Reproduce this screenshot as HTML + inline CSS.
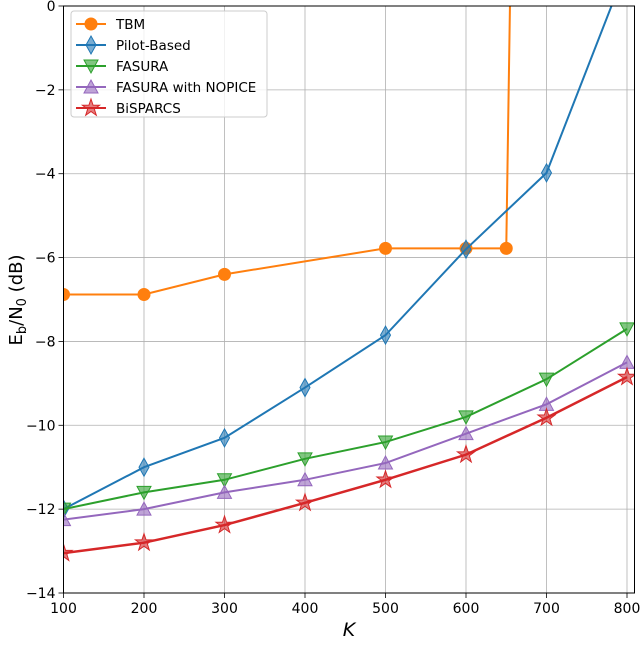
<!DOCTYPE html>
<html><head><meta charset="utf-8"><style>
body{margin:0;background:#fff;width:640px;height:666px;overflow:hidden}
svg text{font-family:"DejaVu Sans","Liberation Sans",sans-serif}
</style></head><body>
<svg id="chart" width="640" height="666" xmlns="http://www.w3.org/2000/svg"></svg>
<script>
const xTicks=[100,200,300,400,500,600,700,800];
const yTicks=[0,-2,-4,-6,-8,-10,-12,-14];
const tbmK=[100,200,300,500,600,650,655];
const tbmV=[-6.88,-6.88,-6.4,-5.78,-5.78,-5.78,0.5];
const pilotK=[100,200,300,400,500,600,700,800];
const pilotV=[-12,-11,-10.3,-9.1,-7.85,-5.8,-3.98,0.95];
const fasuraK=[100,200,300,400,500,600,700,800];
const fasuraV=[-12,-11.6,-11.3,-10.8,-10.4,-9.8,-8.9,-7.7];
const nopiceK=[100,200,300,400,500,600,700,800];
const nopiceV=[-12.25,-12.0,-11.6,-11.3,-10.9,-10.2,-9.5,-8.5];
const bispK=[100,200,300,400,500,600,700,800];
const bispV=[-13.05,-12.8,-12.38,-11.85,-11.3,-10.7,-9.82,-8.85];

const L=63.5,R=634.5,T=6,B=593;
const xs=k=>L+(k-100)*0.805;
const ys=v=>T+(0-v)*(B-T)/14;
const svg=document.getElementById('chart');
const NS='http://www.w3.org/2000/svg';
function mk(tag,attrs,parent){const e=document.createElementNS(NS,tag);for(const a in attrs)e.setAttribute(a,attrs[a]);(parent||svg).appendChild(e);return e;}
const clip=mk('clipPath',{id:'pc'});mk('rect',{x:L,y:T,width:R-L,height:B-T},clip);
xTicks.forEach(t=>{const x=xs(t);
 const g=mk('line',{x1:x,x2:x,y1:T,y2:B,stroke:'#b0b0b0','stroke-width':0.8});
 
 mk('line',{x1:x,x2:x,y1:B,y2:B+5,stroke:'#000','stroke-width':0.8});
 const tx=mk('text',{x:x,y:B+20,'text-anchor':'middle','font-size':14});tx.textContent=t;
 });
yTicks.forEach(t=>{const y=ys(t);
 const g=mk('line',{x1:L,x2:R,y1:y,y2:y,stroke:'#b0b0b0','stroke-width':0.8});
 
 mk('line',{x1:L-5,x2:L,y1:y,y2:y,stroke:'#000','stroke-width':0.8});
 const tx=mk('text',{x:L-8,y:y+5,'text-anchor':'end','font-size':14});tx.textContent=(t<0?'\u2212'+(-t):t);
 });
function marker(type,x,y,c,g){
 const s=7;let e;
 if(type==='o')e=mk('circle',{cx:x,cy:y,r:6},g);
 else if(type==='d')e=mk('polygon',{points:`${x},${y-9} ${x+5},${y} ${x},${y+9} ${x-5},${y}`},g);
 else if(type==='v')e=mk('polygon',{points:`${x-s},${y-6} ${x+s},${y-6} ${x},${y+7}`},g);
 else if(type==='^')e=mk('polygon',{points:`${x-s},${y+6} ${x+s},${y+6} ${x},${y-7}`},g);
 else{let p=[];for(let i=0;i<10;i++){const r=i%2?3.5:9,a=-Math.PI/2+i*Math.PI/5;p.push((x+r*Math.cos(a))+','+(y+r*Math.sin(a)));}e=mk('polygon',{points:p.join(' ')},g);}
 e.setAttribute('fill',c);e.setAttribute('fill-opacity',type==='o'?1:0.6);e.setAttribute('stroke',c);e.setAttribute('stroke-width',1);
 return e;}
const series=[
 ['tbm',tbmK,tbmV,'#ff7f0e','o',[0,1,2,3,4,5]],
 ['pilot',pilotK,pilotV,'#1f77b4','d',null],
 ['fasura',fasuraK,fasuraV,'#2ca02c','v',null],
 ['nopice',nopiceK,nopiceV,'#9467bd','^',null],
 ['bisparcs',bispK,bispV,'#d62728','*',null]];
series.forEach(([n,K,V,c,m,idx])=>{
 const g=mk('g',{'clip-path':'url(#pc)'});
 
 const pl=mk('polyline',{points:K.map((k,i)=>xs(k)+','+ys(V[i])).join(' '),fill:'none',stroke:c,'stroke-width':n==='bisparcs'?2.5:2},g);
 
 K.forEach((k,i)=>{if(idx&&!idx.includes(i))return;const e=marker(m,xs(k),ys(V[i]),c,g);
  });
});
const fr=mk('rect',{x:L,y:T,width:R-L,height:B-T,fill:'none',stroke:'#000','stroke-width':1});

const xl=mk('text',{x:(L+R)/2,y:636,'text-anchor':'middle','font-size':19,'font-style':'italic'});xl.textContent='K';

const yl=mk('text',{transform:'translate(22,300) rotate(-90)','text-anchor':'middle','font-size':18});
yl.innerHTML='E<tspan font-size="13" dy="4">b</tspan><tspan dy="-4">/N</tspan><tspan font-size="13" dy="4">0</tspan><tspan dy="-4"> (dB)</tspan>';

const lg=mk('g',{});
mk('rect',{x:71,y:11,width:196,height:106,rx:3,fill:'#fff','fill-opacity':0.8,stroke:'#ccc'},lg);
const names=['TBM','Pilot-Based','FASURA','FASURA with NOPICE','BiSPARCS'];
series.forEach((s,i)=>{const y=24+i*21;
 const e=mk('g',{},lg);
 mk('line',{x1:76,x2:106,y1:y,y2:y,stroke:s[3],'stroke-width':2},e);
 marker(s[4],91,y,s[3],e);
 const t=mk('text',{x:116,y:y+5,'font-size':13.5},e);t.textContent=names[i];});
</script>
</body></html>
